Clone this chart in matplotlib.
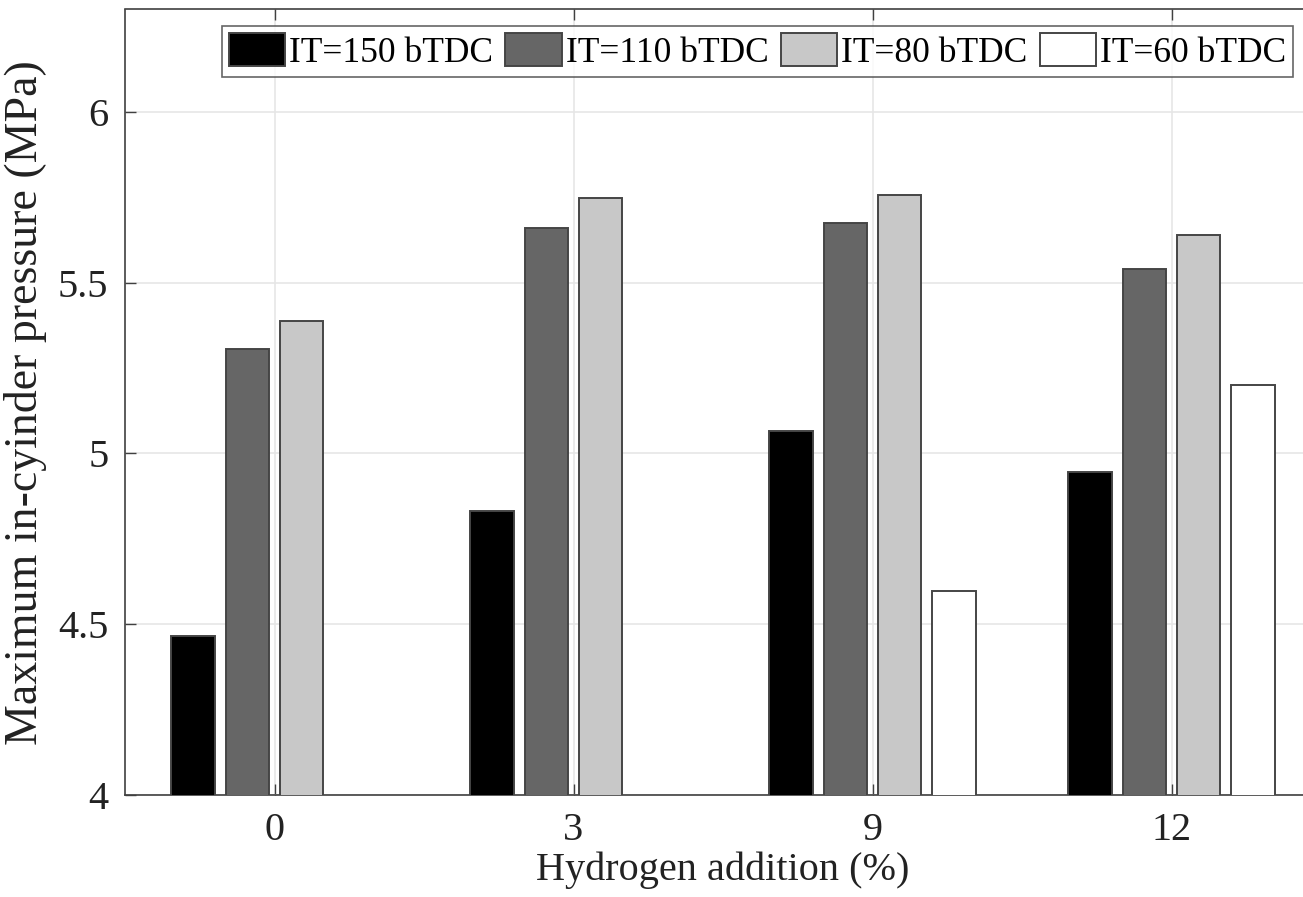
import numpy as np
import matplotlib.pyplot as plt

# data
h2_labels = ['0', '3', '9', '12']
series_names = ['IT=150 bTDC', 'IT=110 bTDC', 'IT=80 bTDC', 'IT=60 bTDC']
it150 = [4.466, 4.832, 5.066, 4.946]
it110 = [5.306, 5.660, 5.675, 5.540]
it80 = [5.388, 5.748, 5.757, 5.640]
it60 = [np.nan, np.nan, 4.597, 5.200]
colors = ['#000000', '#666666', '#c8c8c8', '#ffffff']

plt.rcParams['font.family'] = ['Liberation Serif', 'DejaVu Serif']

fig = plt.figure(figsize=(13.03, 8.97), dpi=100)
W, H = 1303, 897
# axes is wider than the picture: the right part is cut off like in the reference
ax = fig.add_axes([125 / W, (H - 795) / H, 1196 / W, 785.5 / H])

index = np.arange(1, len(h2_labels) + 1)
pitch = (4 / 5.5) / 4
bar_width = 0.8 * pitch
all_series = [it150, it110, it80, it60]

handles = []
for i, vals in enumerate(all_series):
    offs = (i - 1.5) * pitch
    b = ax.bar(index + offs, vals, bar_width, color=colors[i],
               edgecolor='#454545', linewidth=1.4, label=series_names[i], zorder=3)
    handles.append(b)

ax.set_xlim(0.5, 4.5)
ax.set_ylim(4, 6.3)
ax.set_xticks(index)
ax.set_xticklabels(h2_labels)
ax.set_yticks([4, 4.5, 5, 5.5, 6])
ax.set_yticklabels(['4', '4.5', '5', '5.5', '6'])
ax.grid(True, color='#e6e6e6', linewidth=1.2, zorder=0)
ax.set_axisbelow(True)
ax.tick_params(direction='in', length=8, width=1, colors='#404040',
               labelsize=29, labelcolor='#222222', top=True, right=True, pad=12)
for s in ax.spines.values():
    s.set_color('#404040')
    s.set_linewidth(1.2)

ax.set_xlabel('Hydrogen addition (%)', fontsize=29, color='#222222', labelpad=2)
ax.set_ylabel('Maximum in-cyinder pressure (MPa)', fontsize=33, color='#222222', labelpad=8)

leg = ax.legend(handles=handles, ncol=4, loc='upper right',
                bbox_to_anchor=(1293 / W, (H - 26) / H), bbox_transform=fig.transFigure,
                fontsize=25.5, frameon=True, fancybox=False, edgecolor='#404040',
                handlelength=1.6, handleheight=1.05, handletextpad=0.1,
                columnspacing=0.35, borderpad=0.2, borderaxespad=0)
leg.get_frame().set_linewidth(1.2)
leg.set_zorder(5)

plt.savefig('out.png', dpi=100)
